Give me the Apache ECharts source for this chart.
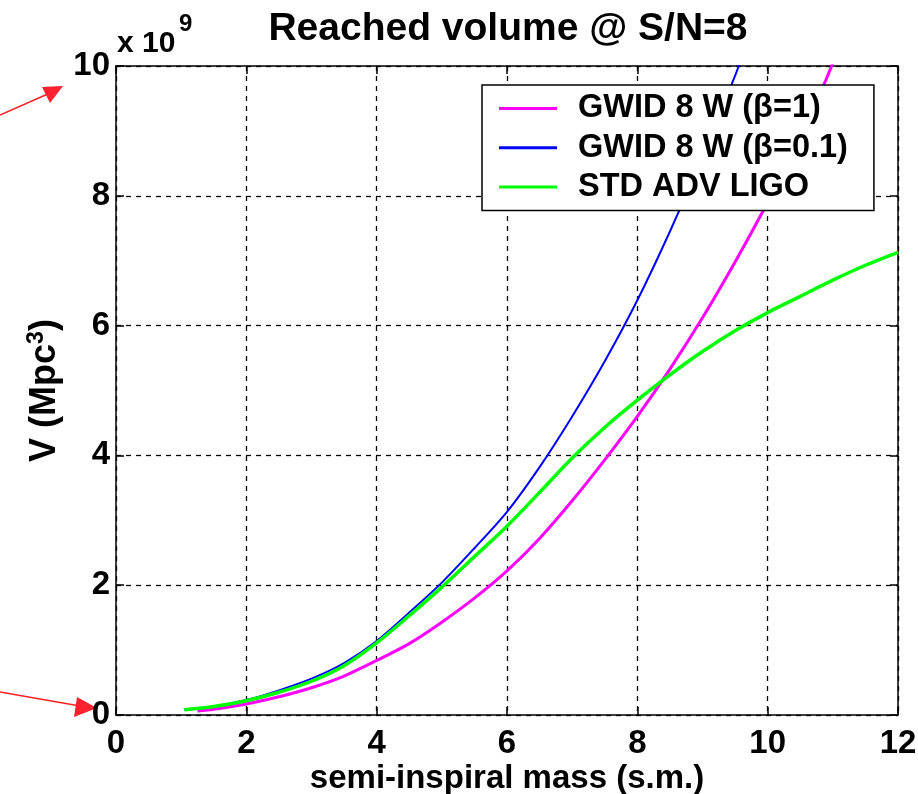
<!DOCTYPE html>
<html>
<head>
<meta charset="utf-8">
<script src="https://cdn.jsdelivr.net/npm/echarts@6/dist/echarts.min.js"></script>
<style>
html,body{margin:0;padding:0;background:#fff;}
#chart{width:918px;height:794px;}
</style>
</head>
<body>
<div id="chart"></div>
<script>
// ---- data (values in units of 1e9 Mpc^3) ----
const seriesNames = ['GWID 8 W (\u03b2=1)', 'GWID 8 W (\u03b2=0.1)', 'STD ADV LIGO'];

const massBeta1 = [1.25, 1.5, 2.0, 2.5, 3.0, 3.5, 4.0, 4.5, 5.0, 5.5, 6.0, 6.5, 7.0, 7.5, 8.0, 8.5, 9.0, 9.5, 10.0, 10.5, 10.9, 11.0];
const volBeta1  = [0.06, 0.09, 0.17, 0.28, 0.42, 0.60, 0.84, 1.10, 1.43, 1.80, 2.22, 2.72, 3.30, 3.93, 4.60, 5.33, 6.12, 6.98, 7.90, 8.90, 9.80, 10.05];

const massBeta01 = [1.05, 1.5, 2.0, 2.5, 3.0, 3.5, 4.0, 4.5, 5.0, 5.5, 6.0, 6.5, 7.0, 7.5, 8.0, 8.5, 9.0, 9.5, 9.6];
const volBeta01  = [0.08, 0.13, 0.23, 0.38, 0.56, 0.80, 1.14, 1.58, 2.04, 2.57, 3.13, 3.82, 4.60, 5.45, 6.39, 7.45, 8.60, 9.85, 10.12];

const massStd = [1.05, 1.5, 2.0, 2.5, 3.0, 3.5, 4.0, 4.5, 5.0, 5.5, 6.0, 6.5, 7.0, 7.5, 8.0, 8.5, 9.0, 9.5, 10.0, 10.5, 11.0, 11.5, 12.0];
const volStd  = [0.08, 0.13, 0.22, 0.35, 0.52, 0.76, 1.11, 1.53, 1.97, 2.44, 2.91, 3.43, 3.96, 4.43, 4.85, 5.24, 5.60, 5.92, 6.20, 6.45, 6.70, 6.93, 7.13];

const xTicks = [0, 2, 4, 6, 8, 10, 12];
const yTicks = [0, 2, 4, 6, 8, 10];

const titleText = 'Reached volume @ S/N=8';
const xName = 'semi-inspiral mass (s.m.)';

function pairs(xs, ys) { return xs.map((x, i) => [x, ys[i]]); }

const FONT = '"Liberation Sans", Arial, Helvetica, sans-serif';
const chart = echarts.init(document.getElementById('chart'), null, {renderer: 'canvas'});

const axisCommonLine = {show: true, onZero: false, lineStyle: {color: '#000', width: 1.5}};
const tickInside = {show: true, inside: true, length: 8, lineStyle: {color: '#000', width: 1.5}};
const dashGrid = {show: true, lineStyle: {color: '#000', width: 1.3, type: [5, 5]}};

const option = {
  backgroundColor: '#fff',
  animation: false,
  textStyle: {fontFamily: FONT},
  title: {
    text: titleText,
    left: 503, textAlign: 'center', top: 5,
    textStyle: {fontFamily: FONT, fontSize: 39, fontWeight: 'bold', color: '#000'}
  },
  grid: {left: 116, right: 20, top: 66, bottom: 79, containLabel: false, outerBoundsMode: 'none'},
  legend: {
    orient: 'vertical',
    left: 482, top: 85,
    backgroundColor: '#fff',
    borderColor: '#000', borderWidth: 1.5,
    padding: [7, 26, 7, 17],
    icon: 'rect',
    itemWidth: 58, itemHeight: 3, itemGap: 6.3,
    textStyle: {fontFamily: FONT, fontSize: 32.5, fontWeight: 'bold', color: '#000', lineHeight: 32, padding: [0, 0, 0, 16]},
    data: seriesNames
  },
  xAxis: [{
    type: 'value', position: 'bottom', min: xTicks[0], max: xTicks[xTicks.length - 1], interval: 2,
    axisLine: axisCommonLine, axisTick: tickInside,
    axisLabel: {color: '#000', fontSize: 33, fontWeight: 'bold', fontFamily: FONT, margin: 12},
    splitLine: dashGrid,
    name: xName, nameLocation: 'middle', nameGap: 47, nameMoveOverlap: false,
    nameTextStyle: {color: '#000', fontSize: 33, fontWeight: 'bold', fontFamily: FONT}
  }, {
    type: 'value', position: 'top', min: xTicks[0], max: xTicks[xTicks.length - 1], interval: 2,
    axisLine: axisCommonLine, axisTick: tickInside, axisLabel: {show: false}, splitLine: {show: false}
  }],
  yAxis: [{
    type: 'value', position: 'left', min: yTicks[0], max: yTicks[yTicks.length - 1], interval: 2,
    axisLine: axisCommonLine, axisTick: tickInside,
    axisLabel: {color: '#000', fontSize: 33, fontWeight: 'bold', fontFamily: FONT, margin: 6},
    splitLine: dashGrid,
    name: '{a|V (Mpc}{s|3}{a|)}', nameLocation: 'middle', nameGap: 53, nameRotate: 90, nameMoveOverlap: false,
    nameTextStyle: {
      color: '#000', fontFamily: FONT, fontWeight: 'bold',
      rich: {
        a: {fontSize: 36, fontWeight: 'bold', fontFamily: FONT, color: '#000', verticalAlign: 'bottom', lineHeight: 38},
        s: {fontSize: 23, fontWeight: 'bold', fontFamily: FONT, color: '#000', verticalAlign: 'top', lineHeight: 38}
      }
    }
  }, {
    type: 'value', position: 'right', min: yTicks[0], max: yTicks[yTicks.length - 1], interval: 2,
    axisLine: axisCommonLine, axisTick: tickInside, axisLabel: {show: false}, splitLine: {show: false}
  }],
  series: [{
    name: seriesNames[0], type: 'line', xAxisIndex: 0, yAxisIndex: 0,
    data: pairs(massBeta1, volBeta1), symbol: 'none', smooth: 0.3, clip: true,
    lineStyle: {color: '#ff00ff', width: 3}, itemStyle: {color: '#ff00ff'}
  }, {
    name: seriesNames[1], type: 'line', xAxisIndex: 0, yAxisIndex: 0,
    data: pairs(massBeta01, volBeta01), symbol: 'none', smooth: 0.3, clip: true,
    lineStyle: {color: '#0000ff', width: 2}, itemStyle: {color: '#0000ff'}
  }, {
    name: seriesNames[2], type: 'line', xAxisIndex: 0, yAxisIndex: 0,
    data: pairs(massStd, volStd), symbol: 'none', smooth: 0.3, clip: true,
    lineStyle: {color: '#00ff00', width: 3.5}, itemStyle: {color: '#00ff00'}
  }],
  graphic: [
    // "x 10^9" exponent label
    {type: 'text', x: 117, y: 59, style: {text: 'x 10', font: 'bold 30px ' + FONT, fill: '#000', textVerticalAlign: 'bottom', verticalAlign: 'bottom'}},
    {type: 'text', x: 179, y: 36, style: {text: '9', font: 'bold 24px ' + FONT, fill: '#000', textVerticalAlign: 'bottom', verticalAlign: 'bottom'}},
    // red annotation arrows
    {type: 'line', shape: {x1: 0, y1: 115, x2: 50, y2: 93}, style: {stroke: '#ff2020', lineWidth: 1.5}},
    {type: 'polygon', shape: {points: [[63, 86], [42, 87], [50, 103]]}, style: {fill: '#ff2030'}},
    {type: 'line', shape: {x1: 0, y1: 692, x2: 80, y2: 706}, style: {stroke: '#ff2020', lineWidth: 1.5}},
    {type: 'polygon', shape: {points: [[97, 708], [77, 697], [74, 717]]}, style: {fill: '#ff2030'}}
  ]
};
chart.setOption(option);
</script>
</body>
</html>
